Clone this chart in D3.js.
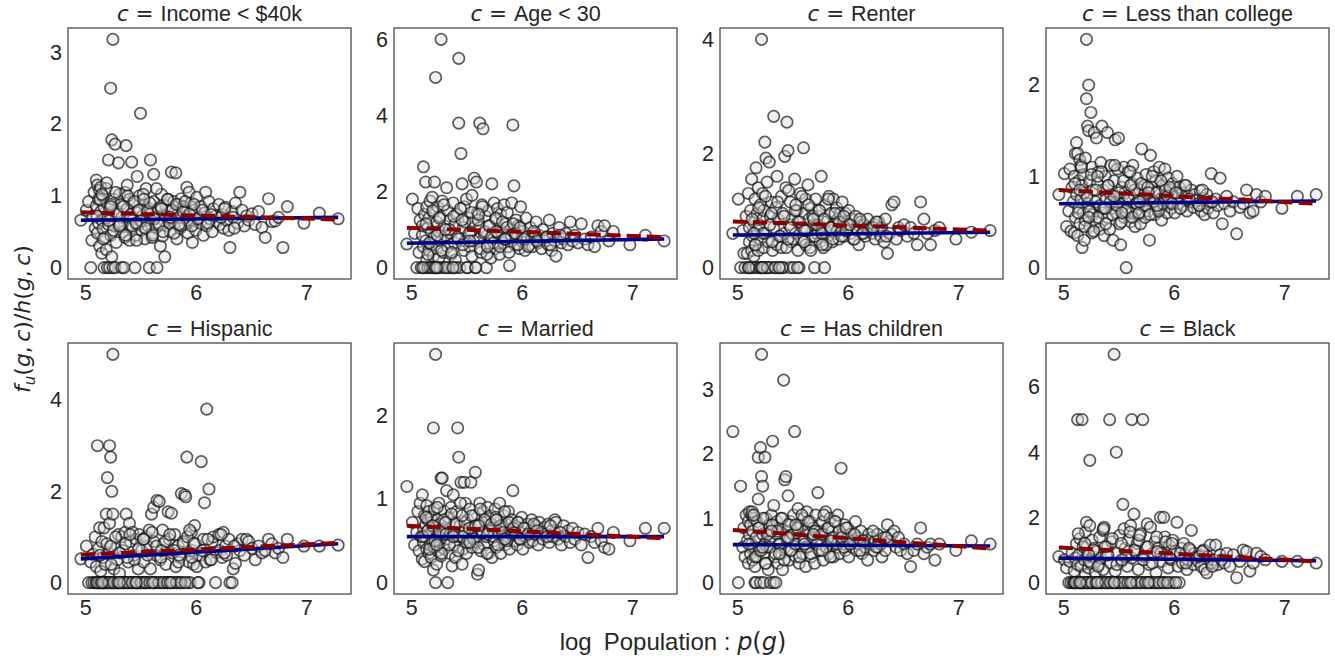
<!DOCTYPE html>
<html>
<head>
<meta charset="utf-8">
<script src="https://cdn.jsdelivr.net/npm/d3@7"></script>
<style>
  body { margin: 0; background: #ffffff; }
</style>
</head>
<body>
<script>
const width = 1335;
const height = 660;

//Panel titles (the text after "c = ")
const titles = ["Income < $40k", "Age < 30", "Renter", "Less than college",
                "Hispanic", "Married", "Has children", "Black"];

//y tick labels per panel
const yTicks = [[0, 1, 2, 3], [0, 2, 4, 6], [0, 2, 4], [0, 1, 2],
                [0, 2, 4], [0, 1, 2], [0, 1, 2, 3], [0, 2, 4, 6]];
const xTicks = [5, 6, 7];

//log population of each unit g (shared by all panels)
const logPop = [
  4.96, 5.01, 5.03, 5.05, 5.06, 5.07, 5.08, 5.09, 5.10, 5.10,
  5.11, 5.11, 5.12, 5.12, 5.13, 5.13, 5.14, 5.14, 5.15, 5.15,
  5.16, 5.16, 5.17, 5.17, 5.18, 5.18, 5.19, 5.19, 5.20, 5.20,
  5.21, 5.21, 5.22, 5.22, 5.23, 5.23, 5.24, 5.24, 5.25, 5.25,
  5.26, 5.26, 5.27, 5.27, 5.28, 5.29, 5.30, 5.30, 5.31, 5.32,
  5.33, 5.33, 5.34, 5.35, 5.36, 5.36, 5.37, 5.38, 5.39, 5.40,
  5.40, 5.41, 5.42, 5.43, 5.43, 5.44, 5.45, 5.46, 5.47, 5.48,
  5.48, 5.49, 5.50, 5.51, 5.52, 5.53, 5.54, 5.55, 5.55, 5.56,
  5.57, 5.58, 5.59, 5.60, 5.61, 5.62, 5.62, 5.63, 5.64, 5.65,
  5.66, 5.67, 5.68, 5.69, 5.70, 5.71, 5.72, 5.73, 5.74, 5.75,
  5.76, 5.77, 5.78, 5.79, 5.80, 5.81, 5.82, 5.83, 5.84, 5.85,
  5.86, 5.87, 5.88, 5.89, 5.90, 5.91, 5.92, 5.93, 5.94, 5.95,
  5.96, 5.97, 5.98, 5.99, 6.00, 6.01, 6.03, 6.04, 6.05, 6.07,
  6.08, 6.09, 6.10, 6.12, 6.13, 6.15, 6.16, 6.18, 6.19, 6.21,
  6.22, 6.24, 6.25, 6.27, 6.28, 6.30, 6.31, 6.33, 6.34, 6.36,
  6.38, 6.40, 6.42, 6.44, 6.46, 6.48, 6.51, 6.54, 6.57, 6.60,
  6.63, 6.66, 6.69, 6.72, 6.75, 6.79, 6.83, 6.98, 7.12, 7.29,
  5.105, 5.135, 5.165, 5.195, 5.215, 5.235, 5.255, 5.275, 5.295, 5.315,
  5.345, 5.365, 5.385, 5.405, 5.425, 5.445, 5.465, 5.485, 5.505, 5.525,
  5.545, 5.565, 5.585, 5.605, 5.625, 5.645, 5.665, 5.685, 5.705, 5.725,
  5.745, 5.765, 5.785, 5.805, 5.825, 5.845, 5.865, 5.885, 5.905, 5.925,
  5.15, 5.23, 5.31, 5.38, 5.46, 5.53, 5.61, 5.69, 5.77, 5.85,
  5.945, 5.965, 5.985, 6.02, 6.06, 6.11, 6.14, 6.23, 6.26, 6.35
];

//f_u(g,c)/h(g,c) for each panel, same order as logPop
const income = [
  0.66, 0.80, 0.92, 0.00, 0.38, 0.72, 1.05, 0.55, 1.22, 0.86,
  0.48, 1.15, 0.62, 0.95, 1.08, 0.30, 0.78, 1.12, 0.20, 0.66,
  0.54, 1.00, 0.00, 0.84, 0.42, 0.70, 1.10, 0.25, 0.00, 0.90,
  1.50, 0.60, 0.00, 0.82, 2.50, 0.45, 1.78, 0.15, 3.18, 0.00,
  0.95, 0.58, 1.72, 0.00, 0.35, 0.78, 1.46, 0.62, 1.02, 0.88,
  0.00, 0.70, 0.50, 0.00, 1.05, 0.42, 1.70, 0.82, 0.60, 0.95,
  0.38, 0.74, 1.47, 0.55, 0.90, 0.68, 0.00, 0.45, 1.27, 0.80,
  0.60, 1.00, 2.15, 0.52, 0.72, 0.88, 0.40, 1.10, 0.66, 0.84,
  0.58, 0.00, 1.50, 0.76, 0.48, 1.30, 0.92, 0.70, 0.55, 0.00,
  0.82, 0.62, 0.30, 1.02, 0.44, 0.74, 0.15, 0.86, 0.58, 0.95,
  0.68, 0.50, 1.33, 0.80, 0.92, 0.62, 1.32, 0.40, 0.75, 0.88,
  0.55, 0.96, 0.70, 0.85, 0.60, 0.78, 1.12, 0.48, 1.05, 0.72,
  0.90, 0.35, 0.65, 0.80, 0.52, 0.98, 0.70, 0.62, 0.85, 0.45,
  0.76, 1.05, 0.58, 0.92, 0.68, 0.50, 0.82, 0.72, 0.64, 0.88,
  0.60, 0.74, 0.55, 0.84, 0.66, 0.52, 0.28, 0.78, 0.70, 0.90,
  0.62, 1.05, 0.80, 0.58, 0.72, 0.66, 0.75, 0.60, 0.78, 0.56,
  0.42, 0.96, 0.64, 0.65, 0.70, 0.28, 0.85, 0.62, 0.76, 0.68,
  0.72, 0.95, 0.40, 1.18, 0.65, 0.88, 0.52, 1.05, 0.75, 0.60,
  0.85, 0.45, 1.00, 0.70, 0.58, 0.92, 0.38, 0.80, 0.65, 1.02,
  0.55, 0.78, 0.90, 0.42, 0.68, 1.10, 0.60, 0.85, 0.50, 0.72,
  0.95, 0.62, 0.80, 0.48, 0.88, 0.70, 0.58, 0.78, 0.92, 0.66,
  1.02, 0.85, 0.58, 1.15, 0.62, 0.95, 0.45, 0.82, 0.70, 0.60,
  0.75, 0.58, 0.88, 0.68, 0.80, 0.62, 0.74, 0.70, 0.82, 0.55
];
const age = [
  0.62, 1.80, 0.90, 0.00, 1.55, 0.40, 1.25, 0.00, 0.85, 1.10,
  0.55, 2.65, 1.40, 0.00, 2.25, 0.70, 1.60, 0.20, 1.05, 0.00,
  0.45, 1.30, 1.75, 0.00, 0.95, 0.60, 1.85, 0.00, 1.45, 0.30,
  2.25, 0.80, 5.00, 0.00, 1.20, 0.50, 1.60, 0.00, 0.95, 0.25,
  1.35, 0.00, 6.00, 0.70, 1.75, 0.40, 1.10, 0.00, 0.85, 2.10,
  0.55, 1.50, 0.00, 1.25, 0.35, 0.90, 0.00, 1.70, 0.65, 1.15,
  0.20, 1.40, 0.80, 5.50, 3.80, 0.00, 3.00, 2.20, 1.05, 0.45,
  1.60, 0.70, 1.80, 0.00, 1.30, 0.55, 0.95, 1.90, 0.30, 1.20,
  2.35, 0.00, 2.25, 1.45, 0.75, 1.05, 3.80, 0.40, 1.65, 3.65,
  0.90, 1.35, 0.00, 0.60, 1.50, 1.10, 0.25, 2.20, 0.85, 1.70,
  0.50, 1.25, 1.55, 0.80, 0.35, 1.40, 0.95, 0.65, 1.65, 1.15,
  0.75, 1.45, 0.55, 0.05, 1.00, 1.70, 3.75, 2.15, 0.60, 1.25,
  0.85, 1.10, 0.50, 1.60, 0.70, 0.95, 0.45, 1.30, 0.80, 0.60,
  1.05, 0.75, 0.55, 0.90, 1.20, 0.65, 0.85, 0.50, 1.00, 0.70,
  0.80, 0.60, 1.25, 0.45, 0.90, 0.70, 0.30, 0.85, 1.05, 0.65,
  0.75, 0.90, 0.60, 1.20, 0.70, 0.85, 0.65, 1.15, 0.75, 0.60,
  0.80, 0.55, 1.10, 0.95, 1.10, 0.70, 0.95, 0.60, 0.85, 0.70,
  0.00, 1.15, 0.65, 1.50, 0.00, 0.85, 1.30, 0.45, 1.65, 0.00,
  1.00, 0.40, 1.35, 0.00, 0.75, 1.55, 0.60, 1.20, 0.00, 0.90,
  1.45, 0.70, 0.00, 1.25, 0.50, 1.60, 0.95, 0.35, 1.10, 0.80,
  0.65, 1.30, 0.90, 0.55, 1.20, 0.75, 1.05, 0.40, 0.85, 1.15,
  0.35, 0.00, 1.00, 0.00, 1.25, 0.70, 1.40, 0.55, 0.95, 0.75,
  0.90, 0.60, 1.05, 0.75, 0.55, 0.95, 0.70, 0.80, 0.60, 0.85
];
const renter = [
  0.60, 1.20, 0.00, 0.65, 0.25, 0.00, 0.90, 0.25, 1.30, 0.00,
  0.45, 0.70, 0.00, 1.00, 0.30, 1.55, 0.55, 0.00, 0.80, 0.20,
  1.20, 0.40, 1.75, 0.00, 0.65, 0.95, 1.40, 0.30, 0.00, 0.75,
  1.10, 0.50, 4.00, 0.00, 0.85, 1.30, 0.35, 1.00, 2.20, 0.00,
  1.92, 0.60, 0.00, 1.50, 0.45, 1.85, 0.90, 0.00, 1.15, 0.30,
  2.65, 0.70, 0.00, 1.05, 0.40, 1.60, 0.85, 0.00, 0.55, 1.25,
  0.35, 0.95, 0.00, 1.95, 0.60, 1.40, 2.55, 2.05, 0.75, 0.00,
  1.15, 0.45, 0.85, 0.00, 1.55, 0.60, 1.00, 0.30, 0.80, 0.00,
  1.30, 0.50, 0.70, 2.10, 0.95, 0.40, 1.20, 0.65, 1.45, 0.85,
  0.35, 1.05, 0.55, 0.75, 0.00, 1.20, 0.60, 0.90, 1.00, 0.45,
  1.60, 0.70, 0.35, 0.00, 1.10, 0.80, 0.55, 1.25, 0.65, 0.95,
  0.45, 1.20, 0.75, 0.60, 1.05, 0.85, 0.50, 0.95, 0.70, 1.15,
  0.80, 0.55, 0.95, 0.65, 0.75, 1.00, 0.60, 0.85, 0.50, 0.90,
  0.70, 0.65, 0.40, 0.80, 0.60, 0.75, 0.55, 0.85, 0.65, 0.70,
  0.60, 0.75, 0.50, 0.65, 0.80, 0.55, 0.70, 0.45, 0.85, 0.25,
  0.60, 1.10, 1.15, 0.50, 0.70, 0.65, 0.75, 0.55, 0.70, 0.60,
  0.40, 1.15, 0.85, 0.60, 0.40, 0.65, 0.70, 0.50, 0.62, 0.65,
  0.00, 0.85, 0.40, 1.05, 0.00, 0.60, 1.25, 0.00, 0.75, 0.45,
  0.00, 1.15, 0.55, 0.00, 0.90, 0.35, 1.35, 0.70, 0.50, 1.00,
  0.00, 0.80, 1.25, 0.45, 0.65, 1.10, 0.30, 0.90, 0.55, 0.75,
  1.00, 0.60, 0.85, 0.40, 1.20, 0.70, 0.50, 0.95, 0.65, 0.80,
  0.60, 0.00, 0.95, 0.00, 0.50, 1.10, 0.65, 0.85, 0.40, 0.70,
  0.55, 0.90, 0.65, 0.75, 0.50, 0.85, 0.60, 0.70, 0.80, 0.55
];
const college = [
  0.80, 1.03, 0.45, 0.62, 1.08, 0.40, 0.88, 0.72, 0.38, 1.00,
  1.25, 0.55, 1.37, 0.80, 0.35, 1.25, 0.65, 0.95, 1.18, 0.48,
  0.75, 1.12, 0.22, 0.90, 0.60, 1.02, 0.30, 0.82, 1.20, 0.52,
  2.50, 1.85, 1.55, 0.70, 2.00, 1.50, 0.45, 0.95, 1.70, 0.62,
  1.10, 0.38, 0.85, 0.58, 1.48, 0.72, 1.42, 0.50, 0.92, 1.05,
  0.68, 0.42, 1.15, 1.55, 0.60, 0.85, 0.35, 1.00, 0.75, 1.48,
  0.55, 0.90, 0.42, 0.80, 1.12, 0.65, 0.30, 0.95, 1.40, 0.72,
  0.60, 1.08, 1.42, 0.48, 0.25, 0.88, 0.70, 1.10, 0.55, 0.82,
  0.00, 0.65, 1.05, 0.75, 0.50, 0.92, 0.60, 1.12, 0.80, 0.45,
  0.70, 0.98, 0.58, 0.85, 0.48, 1.30, 0.68, 0.90, 0.55, 1.02,
  0.78, 0.62, 0.30, 1.23, 0.88, 0.72, 1.05, 0.58, 0.95, 0.82,
  0.65, 1.10, 0.75, 0.52, 0.90, 0.68, 1.08, 0.80, 0.60, 0.98,
  0.72, 0.85, 0.65, 0.92, 0.78, 0.60, 1.00, 0.70, 0.88, 0.75,
  0.82, 0.68, 0.90, 0.62, 0.78, 0.72, 0.85, 0.66, 0.80, 0.74,
  0.70, 0.84, 0.62, 0.76, 0.58, 0.80, 0.65, 0.72, 1.03, 0.60,
  0.75, 0.68, 0.98, 0.48, 0.70, 0.78, 0.62, 0.72, 0.37, 0.66,
  0.70, 0.85, 0.60, 0.62, 0.80, 0.72, 0.78, 0.65, 0.78, 0.80,
  0.92, 0.60, 1.10, 0.45, 0.78, 0.62, 1.02, 0.40, 0.85, 0.55,
  1.05, 0.65, 0.48, 0.90, 0.72, 0.58, 1.12, 0.68, 0.82, 0.50,
  0.95, 0.62, 0.78, 1.05, 0.55, 0.85, 0.70, 0.60, 0.92, 0.75,
  0.68, 0.88, 0.58, 1.00, 0.72, 0.82, 0.62, 0.95, 0.70, 0.85,
  0.85, 0.55, 1.00, 0.65, 0.78, 0.60, 0.90, 0.72, 0.82, 0.68,
  0.78, 0.88, 0.70, 0.82, 0.65, 0.90, 0.75, 0.68, 0.85, 0.72
];
const hispanic = [
  0.52, 0.80, 0.00, 0.45, 0.00, 0.62, 0.00, 1.00, 0.00, 0.35,
  0.00, 3.00, 0.00, 0.75, 0.00, 1.20, 0.25, 0.00, 0.90, 0.00,
  0.55, 0.00, 1.20, 0.00, 0.40, 0.00, 1.50, 0.00, 2.30, 0.00,
  0.65, 0.00, 3.00, 1.30, 2.75, 0.00, 2.00, 0.00, 5.00, 1.50,
  0.00, 0.30, 0.00, 0.75, 0.00, 0.50, 1.05, 0.00, 0.20, 0.00,
  1.00, 0.00, 0.70, 0.00, 1.10, 0.00, 1.50, 0.00, 0.45, 1.30,
  0.00, 0.90, 0.00, 1.10, 0.00, 0.60, 0.00, 0.95, 0.00, 0.30,
  0.00, 1.05, 0.00, 0.70, 0.00, 0.45, 0.00, 1.00, 0.00, 0.80,
  0.00, 1.15, 0.30, 1.50, 0.00, 1.65, 0.90, 0.00, 0.60, 1.80,
  0.00, 1.78, 0.50, 0.00, 1.15, 0.85, 0.00, 0.40, 0.00, 1.55,
  0.95, 0.00, 1.52, 0.65, 0.00, 1.05, 0.35, 0.00, 0.80, 0.00,
  0.55, 1.95, 0.00, 0.90, 1.92, 1.88, 2.75, 0.00, 0.45, 0.00,
  1.10, 0.70, 0.40, 1.25, 0.85, 0.35, 0.00, 0.60, 2.65, 0.95,
  1.75, 0.45, 3.80, 2.05, 0.50, 0.90, 1.00, 0.00, 0.65, 1.05,
  0.70, 0.55, 1.10, 0.80, 0.60, 0.95, 0.00, 0.00, 0.30, 0.42,
  0.85, 0.70, 0.95, 0.60, 0.95, 0.90, 0.75, 0.50, 0.80, 0.65,
  0.70, 0.95, 0.85, 0.65, 0.75, 0.55, 0.95, 0.80, 0.80, 0.82,
  0.00, 0.60, 0.00, 0.85, 0.00, 0.40, 0.00, 1.00, 0.00, 0.65,
  0.00, 0.85, 0.00, 1.05, 0.00, 0.50, 0.00, 0.75, 0.00, 0.95,
  0.00, 0.60, 0.00, 1.10, 0.00, 0.80, 0.00, 0.55, 0.00, 0.90,
  0.00, 1.05, 0.00, 0.70, 0.00, 0.45, 0.00, 0.85, 0.00, 1.00,
  0.00, 0.80, 0.00, 0.55, 0.00, 0.95, 0.00, 0.70, 0.00, 0.60,
  1.15, 0.55, 0.85, 0.00, 0.70, 0.95, 0.50, 1.05, 0.65, 0.80
];
const married = [
  1.15, 0.72, 0.45, 0.60, 0.85, 0.38, 0.95, 0.55, 1.05, 0.28,
  0.65, 0.48, 0.80, 0.25, 0.70, 0.55, 0.92, 0.40, 0.62, 0.75,
  0.35, 0.85, 0.58, 0.45, 0.78, 0.30, 0.68, 0.50, 1.85, 0.15,
  0.88, 0.42, 2.73, 0.00, 0.22, 0.62, 0.75, 0.38, 0.55, 0.95,
  0.48, 0.70, 1.25, 0.32, 1.25, 0.58, 0.85, 0.40, 0.65, 1.10,
  0.00, 0.52, 0.78, 0.35, 0.90, 0.60, 0.20, 1.05, 0.45, 0.72,
  0.30, 0.85, 1.85, 1.50, 0.55, 0.68, 1.20, 0.22, 0.40, 1.20,
  0.62, 0.95, 0.35, 0.75, 0.50, 0.88, 1.20, 0.42, 0.65, 0.55,
  0.80, 1.32, 0.48, 0.10, 0.15, 0.70, 0.95, 0.38, 0.60, 0.85,
  0.45, 0.72, 0.55, 0.90, 0.35, 0.62, 0.80, 0.30, 0.68, 0.50,
  0.88, 0.42, 0.75, 0.58, 0.95, 0.35, 0.65, 0.52, 0.80, 0.45,
  0.70, 0.55, 0.85, 0.40, 0.62, 0.75, 1.10, 0.50, 0.68, 0.58,
  0.45, 0.72, 0.60, 0.52, 0.78, 0.40, 0.65, 0.55, 0.70, 0.48,
  0.62, 0.75, 0.50, 0.58, 0.68, 0.45, 0.72, 0.60, 0.52, 0.66,
  0.58, 0.70, 0.48, 0.62, 0.55, 0.75, 0.72, 0.52, 0.60, 0.45,
  0.68, 0.55, 0.62, 0.48, 0.65, 0.52, 0.60, 0.45, 0.58, 0.30,
  0.55, 0.48, 0.65, 0.50, 0.42, 0.40, 0.60, 0.50, 0.65, 0.65,
  0.55, 0.78, 0.40, 0.68, 0.50, 0.90, 0.62, 0.35, 0.75, 0.58,
  0.45, 0.82, 0.60, 0.70, 0.38, 0.95, 0.55, 0.72, 0.48, 0.65,
  0.80, 0.52, 0.68, 0.42, 0.88, 0.60, 0.75, 0.35, 0.62, 0.70,
  0.55, 0.78, 0.45, 0.68, 0.60, 0.85, 0.50, 0.72, 0.58, 0.65,
  0.62, 0.45, 0.72, 0.55, 0.80, 0.48, 0.68, 0.58, 0.75, 0.52,
  0.60, 0.72, 0.52, 0.65, 0.58, 0.70, 0.62, 0.55, 0.68, 0.60
];
const children = [
  2.35, 0.00, 1.50, 0.55, 0.85, 0.40, 1.05, 0.65, 0.30, 0.95,
  0.75, 1.10, 0.45, 0.90, 0.60, 1.05, 0.35, 0.80, 0.55, 1.00,
  0.25, 0.00, 0.70, 0.00, 0.95, 0.40, 1.30, 1.95, 0.50, 0.85,
  2.10, 0.00, 3.55, 1.65, 0.75, 1.50, 0.45, 0.00, 1.95, 0.60,
  1.00, 0.30, 0.80, 0.55, 0.20, 0.90, 0.00, 0.65, 1.05, 2.20,
  0.00, 1.20, 0.40, 0.00, 0.75, 0.95, 0.30, 0.60, 0.85, 0.45,
  1.00, 0.20, 3.15, 1.60, 0.55, 1.65, 0.80, 1.35, 0.35, 0.70,
  0.95, 0.50, 0.75, 1.05, 2.35, 0.40, 0.85, 0.60, 1.15, 0.30,
  0.70, 0.90, 0.45, 1.00, 0.65, 0.25, 0.80, 1.10, 0.55, 0.75,
  0.95, 0.40, 0.70, 0.85, 0.30, 1.05, 0.60, 1.40, 0.50, 0.80,
  0.65, 0.95, 0.35, 0.75, 1.10, 0.55, 0.85, 0.45, 1.00, 0.60,
  0.80, 0.40, 0.70, 0.95, 0.55, 1.05, 0.65, 0.45, 1.78, 0.75,
  0.60, 0.90, 0.50, 0.70, 0.85, 0.40, 0.75, 0.55, 0.65, 0.95,
  0.50, 0.70, 0.60, 0.80, 0.45, 0.65, 0.55, 0.35, 0.75, 0.60,
  0.70, 0.50, 0.65, 0.75, 0.55, 0.60, 0.40, 0.70, 0.50, 0.90,
  0.65, 0.75, 0.80, 0.55, 0.70, 0.50, 0.60, 0.45, 0.25, 0.50,
  0.60, 0.85, 0.45, 0.55, 0.60, 0.35, 0.60, 0.50, 0.65, 0.60,
  0.60, 1.10, 0.40, 0.85, 0.50, 1.00, 0.30, 0.75, 0.55, 0.90,
  0.45, 0.80, 0.60, 1.00, 0.35, 0.70, 0.90, 0.50, 0.75, 0.60,
  0.85, 0.40, 1.05, 0.65, 0.55, 0.95, 0.45, 0.70, 0.80, 0.60,
  0.50, 0.75, 1.05, 0.55, 0.85, 0.40, 0.70, 0.95, 0.60, 0.80,
  1.05, 0.55, 0.80, 0.45, 0.70, 0.90, 0.60, 0.75, 0.50, 0.65,
  0.70, 0.55, 0.85, 0.60, 0.75, 0.50, 0.65, 0.80, 0.55, 0.70
];
const black = [
  0.80, 0.70, 0.45, 0.00, 0.65, 0.00, 0.90, 0.00, 0.35, 0.00,
  0.75, 0.00, 1.20, 0.00, 0.55, 5.00, 0.00, 0.85, 0.00, 1.35,
  0.00, 0.50, 5.00, 0.00, 1.10, 0.00, 0.70, 0.00, 1.55, 0.25,
  0.00, 1.85, 0.00, 0.90, 0.45, 0.00, 1.75, 3.75, 0.00, 0.60,
  1.30, 0.00, 0.80, 0.00, 1.05, 0.30, 0.00, 0.95, 0.00, 0.55,
  1.40, 0.00, 0.75, 0.00, 1.60, 0.40, 1.70, 0.00, 0.85, 0.00,
  1.10, 0.00, 5.00, 0.60, 0.00, 1.25, 0.00, 7.00, 0.35, 0.00,
  4.00, 0.90, 0.00, 1.45, 0.00, 0.65, 2.40, 1.65, 0.00, 1.05,
  0.00, 0.50, 1.30, 0.00, 1.75, 5.00, 0.75, 0.00, 2.10, 0.95,
  0.00, 1.20, 0.40, 0.00, 1.50, 0.00, 5.00, 0.80, 0.00, 1.10,
  1.80, 0.00, 0.55, 1.70, 0.00, 0.90, 0.00, 1.25, 0.30, 0.00,
  1.05, 0.00, 2.00, 0.65, 0.00, 2.00, 1.40, 0.00, 0.85, 0.45,
  1.15, 0.00, 0.70, 1.30, 0.00, 0.95, 1.85, 0.50, 0.00, 1.05,
  0.60, 1.20, 0.85, 0.40, 0.70, 1.00, 1.60, 0.55, 0.90, 0.75,
  0.65, 0.85, 0.50, 1.00, 0.40, 0.30, 0.80, 1.15, 0.60, 0.70,
  1.15, 0.55, 0.85, 0.70, 0.60, 0.90, 0.50, 0.85, 0.15, 0.65,
  1.00, 0.95, 0.35, 0.60, 0.90, 0.80, 0.70, 0.65, 0.65, 0.60,
  0.00, 1.50, 0.00, 1.20, 0.00, 0.65, 0.00, 1.00, 0.00, 0.50,
  0.00, 1.65, 0.00, 0.85, 0.00, 1.35, 0.00, 0.55, 0.00, 1.20,
  0.00, 0.80, 0.00, 1.55, 0.00, 1.00, 0.00, 1.30, 0.00, 0.70,
  0.00, 1.10, 0.00, 0.60, 0.00, 1.40, 0.00, 0.90, 0.00, 1.25,
  0.00, 0.85, 0.00, 1.10, 0.00, 0.70, 0.00, 1.45, 0.00, 0.95,
  0.00, 0.75, 1.20, 0.00, 0.90, 0.60, 1.05, 0.80, 0.95, 0.50
];
const ratios = [income, age, renter, college, hispanic, married, children, black];

//Fitted lines: value at the smallest and at the largest log population
const blueFit = [[0.66, 0.70], [0.64, 0.75], [0.57, 0.62], [0.70, 0.73],
                 [0.52, 0.85], [0.55, 0.55], [0.59, 0.57], [0.75, 0.67]];
const redFit  = [[0.77, 0.67], [1.05, 0.80], [0.81, 0.65], [0.85, 0.70],
                 [0.61, 0.87], [0.68, 0.53], [0.82, 0.53], [1.08, 0.65]];

//Layout
const panelW = 283;
const panelH = 251;
const panelLeft = [68, 394, 720, 1046];
const panelTop = [28, 343];

const textFont = "'Liberation Sans', Arial, sans-serif";
const mathFont = "'DejaVu Sans', sans-serif";
const textColor = "#262626";

const svg = d3.select("body").append("svg")
    .attr("width", width)
    .attr("height", height)
    .style("background", "#ffffff");

//x domain: data range with 5% margin each side (same for every panel)
const xExt = d3.extent(logPop);
const xPad = (xExt[1] - xExt[0]) * 0.05;
const x = d3.scaleLinear()
    .domain([xExt[0] - xPad, xExt[1] + xPad])
    .range([0, panelW]);

ratios.forEach(function(vals, i) {
    const col = i % 4;
    const row = Math.floor(i / 4);

    const g = svg.append("g")
        .attr("transform", `translate(${panelLeft[col]}, ${panelTop[row]})`);

    const yExt = d3.extent(vals);
    const yPad = (yExt[1] - yExt[0]) * 0.05;
    const y = d3.scaleLinear()
        .domain([yExt[0] - yPad, yExt[1] + yPad])
        .range([panelH, 0]);

    const points = d3.zip(logPop, vals);

    //points
    g.append("g").selectAll("circle")
        .data(points)
        .join("circle")
        .attr("cx", d => x(d[0]))
        .attr("cy", d => y(d[1]))
        .attr("r", 5.7)
        .attr("fill", "#dcdcdc")
        .attr("fill-opacity", 0.42)
        .attr("stroke", "#111111")
        .attr("stroke-opacity", 0.68)
        .attr("stroke-width", 1.7);

    const line = d3.line()
        .x(d => x(d[0]))
        .y(d => y(d[1]));

    //blue solid fit
    g.append("path")
        .datum([[xExt[0], blueFit[i][0]], [xExt[1], blueFit[i][1]]])
        .attr("d", line)
        .attr("fill", "none")
        .attr("stroke", "#00008b")
        .attr("stroke-width", 3.6);

    //red dashed fit
    g.append("path")
        .datum([[xExt[0], redFit[i][0]], [xExt[1], redFit[i][1]]])
        .attr("d", line)
        .attr("fill", "none")
        .attr("stroke", "#8b0000")
        .attr("stroke-width", 4)
        .attr("stroke-dasharray", "14,6");

    //frame
    g.append("rect")
        .attr("x", 0)
        .attr("y", 0)
        .attr("width", panelW)
        .attr("height", panelH)
        .attr("fill", "none")
        .attr("stroke", "#444444")
        .attr("stroke-width", 1.25);

    //axis labels only (no tick marks, seaborn white style)
    const xAxis = g.append("g")
        .attr("transform", `translate(0, ${panelH})`)
        .call(d3.axisBottom(x).tickValues(xTicks).tickSize(0).tickPadding(6).tickFormat(d3.format("d")));
    xAxis.select(".domain").remove();

    const yAxis = g.append("g")
        .call(d3.axisLeft(y).tickValues(yTicks[i]).tickSize(0).tickPadding(6).tickFormat(d3.format("d")));
    yAxis.select(".domain").remove();

    g.selectAll(".tick text")
        .style("font-family", textFont)
        .style("font-size", "21.5px")
        .attr("fill", textColor);

    //title  "c = ..."
    const title = g.append("text")
        .attr("x", panelW / 2)
        .attr("y", -7)
        .attr("text-anchor", "middle")
        .style("font-size", "21.5px")
        .attr("fill", textColor);
    title.append("tspan")
        .style("font-family", mathFont)
        .style("font-style", "italic")
        .text("c");
    title.append("tspan")
        .style("font-family", mathFont)
        .text(" = ");
    title.append("tspan")
        .style("font-family", textFont)
        .text(titles[i]);
});

//x axis label
const xLabel = svg.append("text")
    .attr("x", 673)
    .attr("y", 650)
    .attr("text-anchor", "middle")
    .style("font-size", "24px")
    .attr("fill", textColor);
xLabel.append("tspan")
    .style("font-family", textFont)
    .text("log\u2002Population : ");
xLabel.append("tspan")
    .style("font-family", mathFont)
    .style("font-style", "italic")
    .text("p");
xLabel.append("tspan")
    .style("font-family", mathFont)
    .text("(");
xLabel.append("tspan")
    .style("font-family", mathFont)
    .style("font-style", "italic")
    .text("g");
xLabel.append("tspan")
    .style("font-family", mathFont)
    .text(")");

//y axis label: f_u(g,c)/h(g,c)
const yLabel = svg.append("text")
    .attr("transform", "translate(30, 319) rotate(-90)")
    .attr("text-anchor", "middle")
    .style("font-family", mathFont)
    .style("font-size", "22px")
    .attr("fill", textColor);
const yParts = [
    ["f", true, false], ["u", true, true], ["(", false, false], ["g", true, false],
    [",\u2009", false, false], ["c", true, false], [")/", false, false], ["h", true, false],
    ["(", false, false], ["g", true, false], [",\u2009", false, false], ["c", true, false], [")", false, false]
];
yParts.forEach(function(p, k) {
    const t = yLabel.append("tspan")
        .style("font-style", p[1] ? "italic" : "normal")
        .text(p[0]);
    if (p[2]) {
        t.attr("dy", 5).style("font-size", "15px");
    } else if (k > 0 && yParts[k - 1][2]) {
        t.attr("dy", -5);
    }
});
</script>
</body>
</html>
